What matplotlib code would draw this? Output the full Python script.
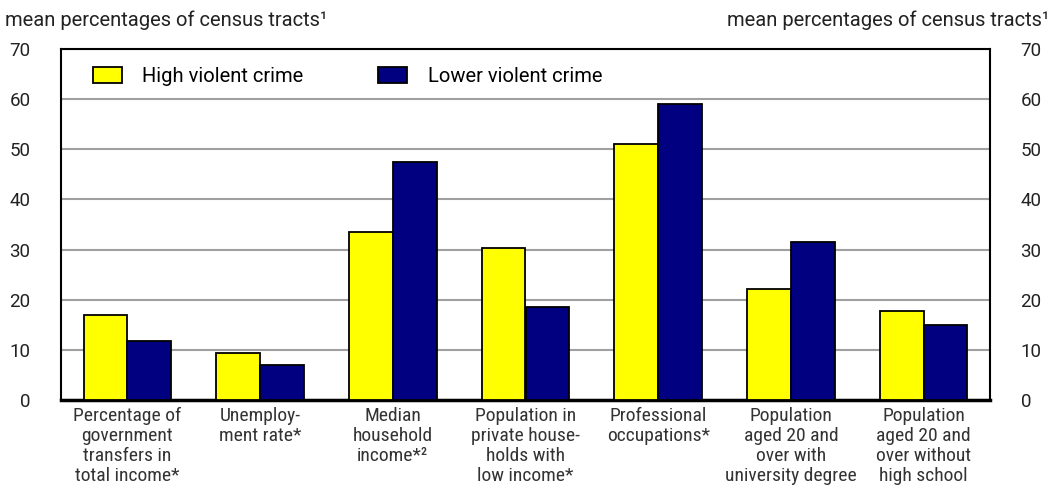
import matplotlib
matplotlib.use("Agg")
import matplotlib.pyplot as plt
import numpy as np
from matplotlib.patches import Patch

plt.rcParams['font.family'] = ['Roboto', 'DejaVu Sans']
label_font = ['Roboto Condensed', 'DejaVu Sans']

categories = [
    "Percentage of\ngovernment\ntransfers in\ntotal income*",
    "Unemploy-\nment rate*",
    "Median\nhousehold\nincome*\u00b2",
    "Population in\nprivate house-\nholds with\nlow income*",
    "Professional\noccupations*",
    "Population\naged 20 and\nover with\nuniversity degree",
    "Population\naged 20 and\nover without\nhigh school",
]
high_crime = [16.9, 9.4, 33.5, 30.4, 51.0, 22.1, 17.7]
lower_crime = [11.8, 7.0, 47.5, 18.5, 59.0, 31.6, 15.0]
yticks = [0, 10, 20, 30, 40, 50, 60, 70]

fig = plt.figure(figsize=(10.54, 4.93), dpi=100)
ax = fig.add_axes([61 / 1054, 93 / 493, 929 / 1054, 351 / 493])

x = np.arange(len(categories))
w = 0.33
ax.bar(x - w / 2, high_crime, w, color='#ffff00', edgecolor='black', linewidth=1.3, zorder=3)
ax.bar(x + w / 2, lower_crime, w, color='#000080', edgecolor='black', linewidth=1.3, zorder=3)

ax.set_xlim(-0.5, len(categories) - 0.5)
ax.set_ylim(0, 70)
ax.set_yticks(yticks)
ax.set_yticklabels([str(v) for v in yticks], fontsize=13.5, color='#222222')
ax.yaxis.grid(True, color='#a0a0a0', linewidth=1.5, zorder=0)
ax.set_xticks(x)
ax.set_xticklabels(categories, fontsize=14, color='#333333', linespacing=1.15, va='top',
                   family=label_font)
ax.tick_params(axis='both', length=0)
ax.tick_params(axis='x', pad=5)
ax.tick_params(axis='y', pad=22)
for s in ['left', 'right', 'top']:
    ax.spines[s].set_linewidth(1.5)
ax.spines['bottom'].set_linewidth(2.5)

ax2 = ax.twinx()
ax2.set_ylim(0, 70)
ax2.set_yticks(yticks)
ax2.set_yticklabels([str(v) for v in yticks], fontsize=13.5, color='#222222')
ax2.tick_params(axis='y', length=0, pad=22)
for s in ax2.spines.values():
    s.set_visible(False)

handles = [Patch(facecolor='#ffff00', edgecolor='black', linewidth=1.3),
           Patch(facecolor='#000080', edgecolor='black', linewidth=1.3)]
ax.legend(handles, ['High violent crime', 'Lower violent crime'], ncol=2, frameon=False,
          loc='upper left', bbox_to_anchor=(0.015, 1.0), fontsize=14.5,
          handlelength=1.45, handleheight=0.85, handletextpad=1.0, columnspacing=3.7)

fig.text(5 / 1054, 1 - 20 / 493, 'mean percentages of census tracts\u00b9', fontsize=14.5,
         ha='left', va='center', color='#222222')
fig.text(1049 / 1054, 1 - 20 / 493, 'mean percentages of census tracts\u00b9', fontsize=14.5,
         ha='right', va='center', color='#222222')

fig.savefig('out.png', dpi=100)
